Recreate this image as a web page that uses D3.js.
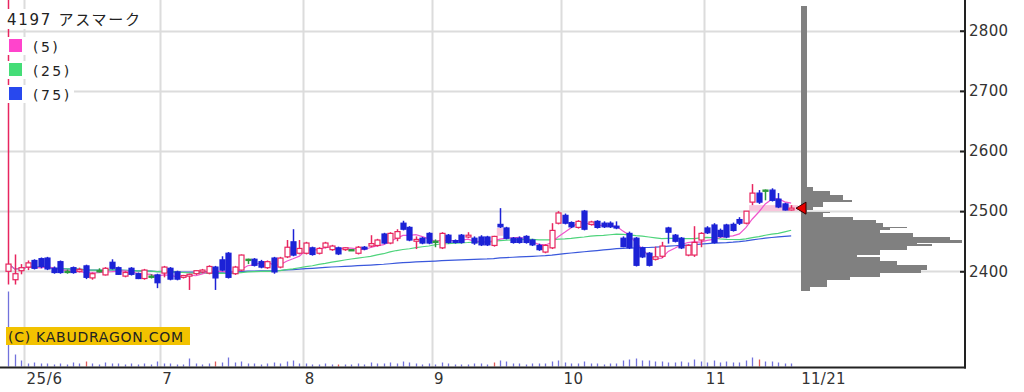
<!DOCTYPE html>
<html>
<head>
<meta charset="utf-8">
<script src="https://cdn.jsdelivr.net/npm/d3@7"></script>
<style>
body { margin: 0; background: #fff; }
svg { display: block; font-family: "DejaVu Sans", "Noto Sans CJK JP", sans-serif; }
</style>
</head>
<body>
<div id="chart"></div>
<script>
// ---- data ----
var dates = [
  "05-28","05-29","05-30",
  "06-02","06-03","06-04","06-05","06-06","06-09","06-10","06-11","06-12","06-13","06-16","06-17","06-18","06-19","06-20","06-23","06-24","06-25","06-26","06-27","06-30",
  "07-01","07-02","07-03","07-04","07-07","07-08","07-09","07-10","07-11","07-14","07-15","07-16","07-17","07-18","07-22","07-23","07-24","07-25","07-28","07-29","07-30","07-31",
  "08-01","08-04","08-05","08-06","08-07","08-08","08-12","08-13","08-14","08-15","08-18","08-19","08-20","08-21","08-22","08-25","08-26","08-27","08-28","08-29",
  "09-01","09-02","09-03","09-04","09-05","09-08","09-09","09-10","09-11","09-12","09-16","09-17","09-18","09-19","09-22","09-24","09-25","09-26","09-29","09-30",
  "10-01","10-02","10-03","10-06","10-07","10-08","10-09","10-10","10-14","10-15","10-16","10-17","10-20","10-21","10-22","10-23","10-24","10-27","10-28","10-29","10-30","10-31",
  "11-04","11-05","11-06","11-07","11-10","11-11","11-12","11-13","11-14","11-17","11-18","11-19","11-20","11-21"
];
var opens = [2400,2386,2401,2407,2418,2421,2422,2405,2416,2400,2406,2400,2409,2389,2401,2394,2415,2406,2392,2405,
  2396,2388,2392,2394,2397,2405,2399,2390,2392,2396,2399,2397,2407,2419,2430,2396,2402,2420,2420,2416,
  2406,2422,2407,2424,2449,2430,2430,2439,2430,2440,2436,2439,2436,2436,2430,2440,2442,2443,2462,2447,
  2455,2480,2473,2450,2455,2463,2450,2439,2460,2451,2460,2457,2455,2457,2457,2443,2478,2472,2455,2455,
  2458,2452,2443,2432,2439,2480,2493,2481,2473,2500,2478,2483,2480,2480,2475,2455,2463,2455,2439,2430,
  2420,2425,2472,2460,2455,2427,2427,2452,2472,2477,2468,2477,2478,2486,2480,2515,2530,2535,2535,2520,
  2512,2502];
var highs = [2860,2428,2412,2418,2420,2423,2424,2408,2418,2403,2408,2406,2411,2398,2405,2407,2420,2408,2400,2407,
  2398,2404,2395,2396,2409,2407,2401,2394,2396,2402,2404,2410,2409,2425,2432,2409,2428,2421,2422,2419,
  2418,2424,2424,2452,2470,2452,2449,2441,2440,2449,2444,2441,2440,2437,2442,2442,2460,2454,2464,2465,
  2470,2484,2475,2458,2457,2465,2453,2465,2462,2453,2462,2465,2458,2460,2459,2459,2505,2474,2457,2458,
  2460,2454,2446,2445,2480,2500,2496,2483,2485,2502,2484,2485,2483,2483,2483,2458,2466,2457,2441,2432,
  2441,2449,2474,2462,2457,2445,2475,2465,2475,2480,2471,2479,2481,2490,2500,2545,2535,2536,2538,2530,
  2514,2510];
var lows = [2378,2378,2395,2402,2403,2405,2402,2396,2396,2396,2396,2398,2387,2386,2398,2393,2403,2394,2390,2393,
  2387,2386,2388,2372,2390,2385,2385,2388,2369,2394,2397,2395,2369,2400,2388,2394,2400,2412,2408,2405,
  2404,2396,2405,2422,2425,2428,2428,2426,2428,2438,2434,2427,2434,2434,2428,2435,2440,2441,2445,2445,
  2450,2468,2450,2437,2445,2445,2440,2437,2446,2446,2446,2455,2444,2442,2442,2441,2472,2453,2446,2446,
  2446,2442,2434,2430,2437,2478,2478,2472,2471,2468,2476,2471,2472,2472,2470,2440,2437,2408,2422,2408,
  2418,2422,2446,2448,2437,2425,2424,2440,2462,2446,2456,2455,2466,2477,2478,2510,2512,2518,2516,2505,
  2501,2501];
var closes = [2412,2396,2406,2414,2405,2408,2404,2398,2398,2400,2398,2403,2390,2396,2401,2405,2405,2395,2398,2395,
  2388,2402,2392,2381,2407,2387,2387,2393,2395,2401,2402,2408,2389,2402,2390,2407,2427,2420,2410,2407,
  2416,2399,2422,2440,2427,2438,2447,2428,2438,2447,2442,2429,2439,2436,2440,2437,2446,2452,2447,2463,
  2466,2470,2452,2453,2447,2447,2450,2463,2448,2448,2448,2460,2447,2444,2444,2458,2474,2455,2448,2448,
  2448,2444,2436,2443,2468,2497,2480,2474,2483,2470,2482,2473,2474,2474,2472,2441,2439,2410,2424,2410,
  2424,2442,2465,2450,2439,2443,2448,2463,2464,2448,2458,2457,2468,2480,2500,2530,2515,2535,2518,2507,
  2502,2505];
// volume, in units of 100 shares
var volumes = [1500,240,120,60,80,60,60,40,60,40, 80,60,100,60,40,80,60,60,40,60,
  40,60,40,100,60,60,40,40,160,60, 40,60,100,80,180,80,100,60,60,40,
  60,80,60,100,120,60,60,40,40,60, 40,40,40,40,60,40,80,60,60,80,
  60,100,80,60,40,60,40,80,60,40, 40,40,60,60,40,80,120,100,60,60,
  40,60,60,60,100,120,80,60,60,100, 60,60,40,60,60,120,140,160,120,120,
  100,100,80,80,100,80,140,100,80,120, 80,100,80,80,120,180,140,100,100,80,
  60,60];
var redVolumeDays = [12, 32, 51, 75, 116];

var monthStarts = ["06-02", "07-01", "08-01", "09-01", "10-01", "11-04"];
var monthNames = ["25/6", "7", "8", "9", "10", "11"];
var lastDayLabel = "11/21";
var priceTicks = [2400, 2500, 2600, 2700, 2800];

// price-by-volume profile on the right
var profileLow = [2367,2374,2385,2390,2397,2402,2410,2417,2424,2427,2435,2442,2445,2447,2452,2457,2464,2468,2472,2474,2480,2485,2490,2497,2499,2502,2507,2515,2518,2527,2533,2540];
var profileHigh = [2374,2385,2390,2397,2402,2410,2417,2424,2427,2435,2442,2445,2447,2452,2457,2464,2468,2472,2474,2480,2485,2490,2497,2499,2502,2507,2515,2518,2527,2533,2540,2841];
var profileVolume = [9,26,49,79,120,126,96,79,56,79,106,131,116,161,149,112,79,89,106,82,75,52,22,29,6,12,22,51,42,29,12,6];

var maPeriods = [5, 25, 75];
var maColors = ["#f055cc", "#4fd47c", "#3a58dc"];
var legendColors = ["#ff44cc", "#44dd77", "#2848ee"];

// ---- layout ----
var W = 1024, H = 392,
    axisX = 965, baseY = 367.5;

var svg = d3.select("#chart").append("svg")
    .attr("width", W)
    .attr("height", H);

var x = d3.scaleBand()
    .domain(dates)
    .range([5.07, 794.4])
    .padding(0);
var step = x.step();
var cx = function(i) { return x(dates[i]) + step / 2; };

var y = d3.scaleLinear()
    .domain([2400, 2800])
    .range([271.3, 30.7]);

var yv = d3.scaleLinear()
    .domain([0, 1500])
    .range([baseY - 1, baseY - 76]);

var xp = d3.scaleLinear()
    .domain([0, 161])
    .range([801, 962]);

// grid
svg.append("g")
    .selectAll("line")
    .data(priceTicks)
    .join("line")
    .attr("x1", 0).attr("x2", axisX)
    .attr("y1", d => Math.round(y(d)) + 0.5)
    .attr("y2", d => Math.round(y(d)) + 0.5)
    .style("stroke", "#dcdcdc")
    .style("stroke-width", 2);

svg.append("g")
    .selectAll("line")
    .data(monthStarts)
    .join("line")
    .attr("x1", d => Math.round(x(d)) + 0.5)
    .attr("x2", d => Math.round(x(d)) + 0.5)
    .attr("y1", 0).attr("y2", baseY)
    .style("stroke", "#dcdcdc")
    .style("stroke-width", 2);

// gap windows (unfilled gap-ups)
var idx = d3.range(dates.length);
var windows = [];
for (var i = 1; i < dates.length; i++) {
    if (lows[i] > highs[i - 1]) {
        var end = dates.length;
        for (var j = i + 1; j < dates.length; j++) {
            if (lows[j] <= highs[i - 1]) { end = j; break; }
        }
        windows.push({ from: i - 1, to: end, lo: highs[i - 1], hi: lows[i] });
    }
}
svg.append("g")
    .selectAll("rect")
    .data(windows)
    .join("rect")
    .attr("x", d => cx(d.from) + step / 2)
    .attr("width", d => (d.to < dates.length ? cx(d.to) - step / 2 : 798) - (cx(d.from) + step / 2))
    .attr("y", d => y(d.hi))
    .attr("height", d => y(d.lo) - y(d.hi))
    .style("fill", "#f9c6dc");

// volume
svg.append("g")
    .selectAll("line")
    .data(idx)
    .join("line")
    .attr("x1", i => Math.round(cx(i)) + 0.5)
    .attr("x2", i => Math.round(cx(i)) + 0.5)
    .attr("y1", yv(0))
    .attr("y2", i => yv(volumes[i]))
    .style("stroke", i => redVolumeDays.indexOf(i) >= 0 ? "#e05a5a" : "#7272dc")
    .style("stroke-width", 1.3);

// moving averages
function movingAverage(n) {
    return closes.map(function(c, i) {
        return d3.mean(closes.slice(Math.max(0, i - n + 1), i + 1));
    });
}
var maLine = d3.line()
    .x((d, i) => cx(i))
    .y(d => y(d));

maPeriods.slice().reverse().forEach(function(n) {
    var k = maPeriods.indexOf(n);
    svg.append("path")
        .datum(movingAverage(n))
        .attr("d", maLine)
        .style("fill", "none")
        .style("stroke", maColors[k])
        .style("stroke-width", 1.2);
});

// candles
var upColor = "#e8255f", downColor = "#1c22d6", flatColor = "#2a9a3c";
function candleColor(i) {
    if (closes[i] > opens[i]) return upColor;
    if (closes[i] < opens[i]) return downColor;
    return flatColor;
}
var candles = svg.append("g");
candles.selectAll("line")
    .data(idx)
    .join("line")
    .attr("x1", i => Math.round(cx(i)) + 0.5)
    .attr("x2", i => Math.round(cx(i)) + 0.5)
    .attr("y1", i => y(highs[i]))
    .attr("y2", i => y(lows[i]))
    .style("stroke", candleColor)
    .style("stroke-width", 1.5);

candles.selectAll("rect")
    .data(idx)
    .join("rect")
    .attr("x", i => Math.round(cx(i)) - 2)
    .attr("width", 5)
    .attr("y", i => y(Math.max(opens[i], closes[i])))
    .attr("height", i => Math.max(1.2, Math.abs(y(opens[i]) - y(closes[i]))))
    .style("fill", i => closes[i] > opens[i] ? "#fff" : candleColor(i))
    .style("stroke", candleColor)
    .style("stroke-width", 1.2);

// price-by-volume profile
svg.append("g")
    .selectAll("rect")
    .data(d3.range(profileVolume.length))
    .join("rect")
    .attr("x", xp(0))
    .attr("y", k => y(profileHigh[k]))
    .attr("width", k => xp(profileVolume[k]) - xp(0))
    .attr("height", k => y(profileLow[k]) - y(profileHigh[k]))
    .style("fill", "#808080")
    .style("shape-rendering", "crispEdges");

// last price marker
var lastY = y(closes[closes.length - 1]);
svg.append("path")
    .attr("d", "M796," + lastY + "L806," + (lastY - 6) + "L806," + (lastY + 6) + "Z")
    .style("fill", "#e80000")
    .style("stroke", "#300")
    .style("stroke-width", 1);

// axes
svg.append("line")
    .attr("x1", 0).attr("x2", axisX + 1)
    .attr("y1", baseY).attr("y2", baseY)
    .style("stroke", "#222")
    .style("stroke-width", 2);
svg.append("line")
    .attr("x1", axisX).attr("x2", axisX)
    .attr("y1", 0).attr("y2", baseY + 1)
    .style("stroke", "#222")
    .style("stroke-width", 2);

var yAxis = svg.append("g")
    .attr("transform", "translate(" + axisX + ",0)")
    .call(d3.axisRight(y).tickValues(priceTicks).tickFormat(d3.format("d"))
        .tickSizeInner(-5).tickSizeOuter(0).tickPadding(4));
yAxis.select(".domain").remove();
yAxis.selectAll("line").style("stroke", "#222").style("stroke-width", 2);
yAxis.selectAll("text")
    .style("font-family", "DejaVu Sans")
    .style("font-size", "15px")
    .style("fill", "#333")
    .style("letter-spacing", "0.3px");

svg.append("g")
    .selectAll("text")
    .data(monthStarts)
    .join("text")
    .attr("x", d => x(d) + 2)
    .attr("y", 384)
    .text((d, k) => monthNames[k])
    .style("font-size", "15px")
    .style("fill", "#333")
    .style("letter-spacing", "0.6px");

svg.append("text")
    .attr("x", cx(dates.length - 1) + 10)
    .attr("y", 384)
    .text(lastDayLabel)
    .style("font-size", "15px")
    .style("fill", "#333")
    .style("letter-spacing", "0.3px");

// legend
svg.append("rect").attr("x", 0).attr("y", 9).attr("width", 146).attr("height", 20).style("fill", "#fff");
svg.append("text")
    .attr("x", 7).attr("y", 25)
    .text("4197 アスマーク")
    .attr("textLength", 133)
    .attr("lengthAdjust", "spacing")
    .style("font-size", "15px")
    .style("fill", "#222");

var legend = svg.append("g")
    .selectAll("g")
    .data(maPeriods)
    .join("g")
    .attr("transform", (d, k) => "translate(0," + (37 + k * 24) + ")");
legend.append("rect")
    .attr("x", 0).attr("y", 0).attr("width", (d, k) => k == 0 ? 64 : 74).attr("height", 18)
    .style("fill", "#fff");
legend.append("rect")
    .attr("x", 9).attr("y", 2).attr("width", 13).attr("height", 13)
    .style("fill", (d, k) => legendColors[k]);
legend.append("text")
    .attr("x", 33).attr("y", 15)
    .text(d => "(" + d + ")")
    .style("font-size", "14px")
    .style("letter-spacing", "2.5px")
    .style("fill", "#222");

// copyright badge
svg.append("rect")
    .attr("x", 6).attr("y", 327).attr("width", 184).attr("height", 18)
    .style("fill", "#f2c200");
svg.append("text")
    .attr("x", 8).attr("y", 342)
    .text("(C) KABUDRAGON.COM")
    .attr("textLength", 175)
    .attr("lengthAdjust", "spacing")
    .style("font-size", "14px")
    .style("fill", "#222");
</script>
</body>
</html>
